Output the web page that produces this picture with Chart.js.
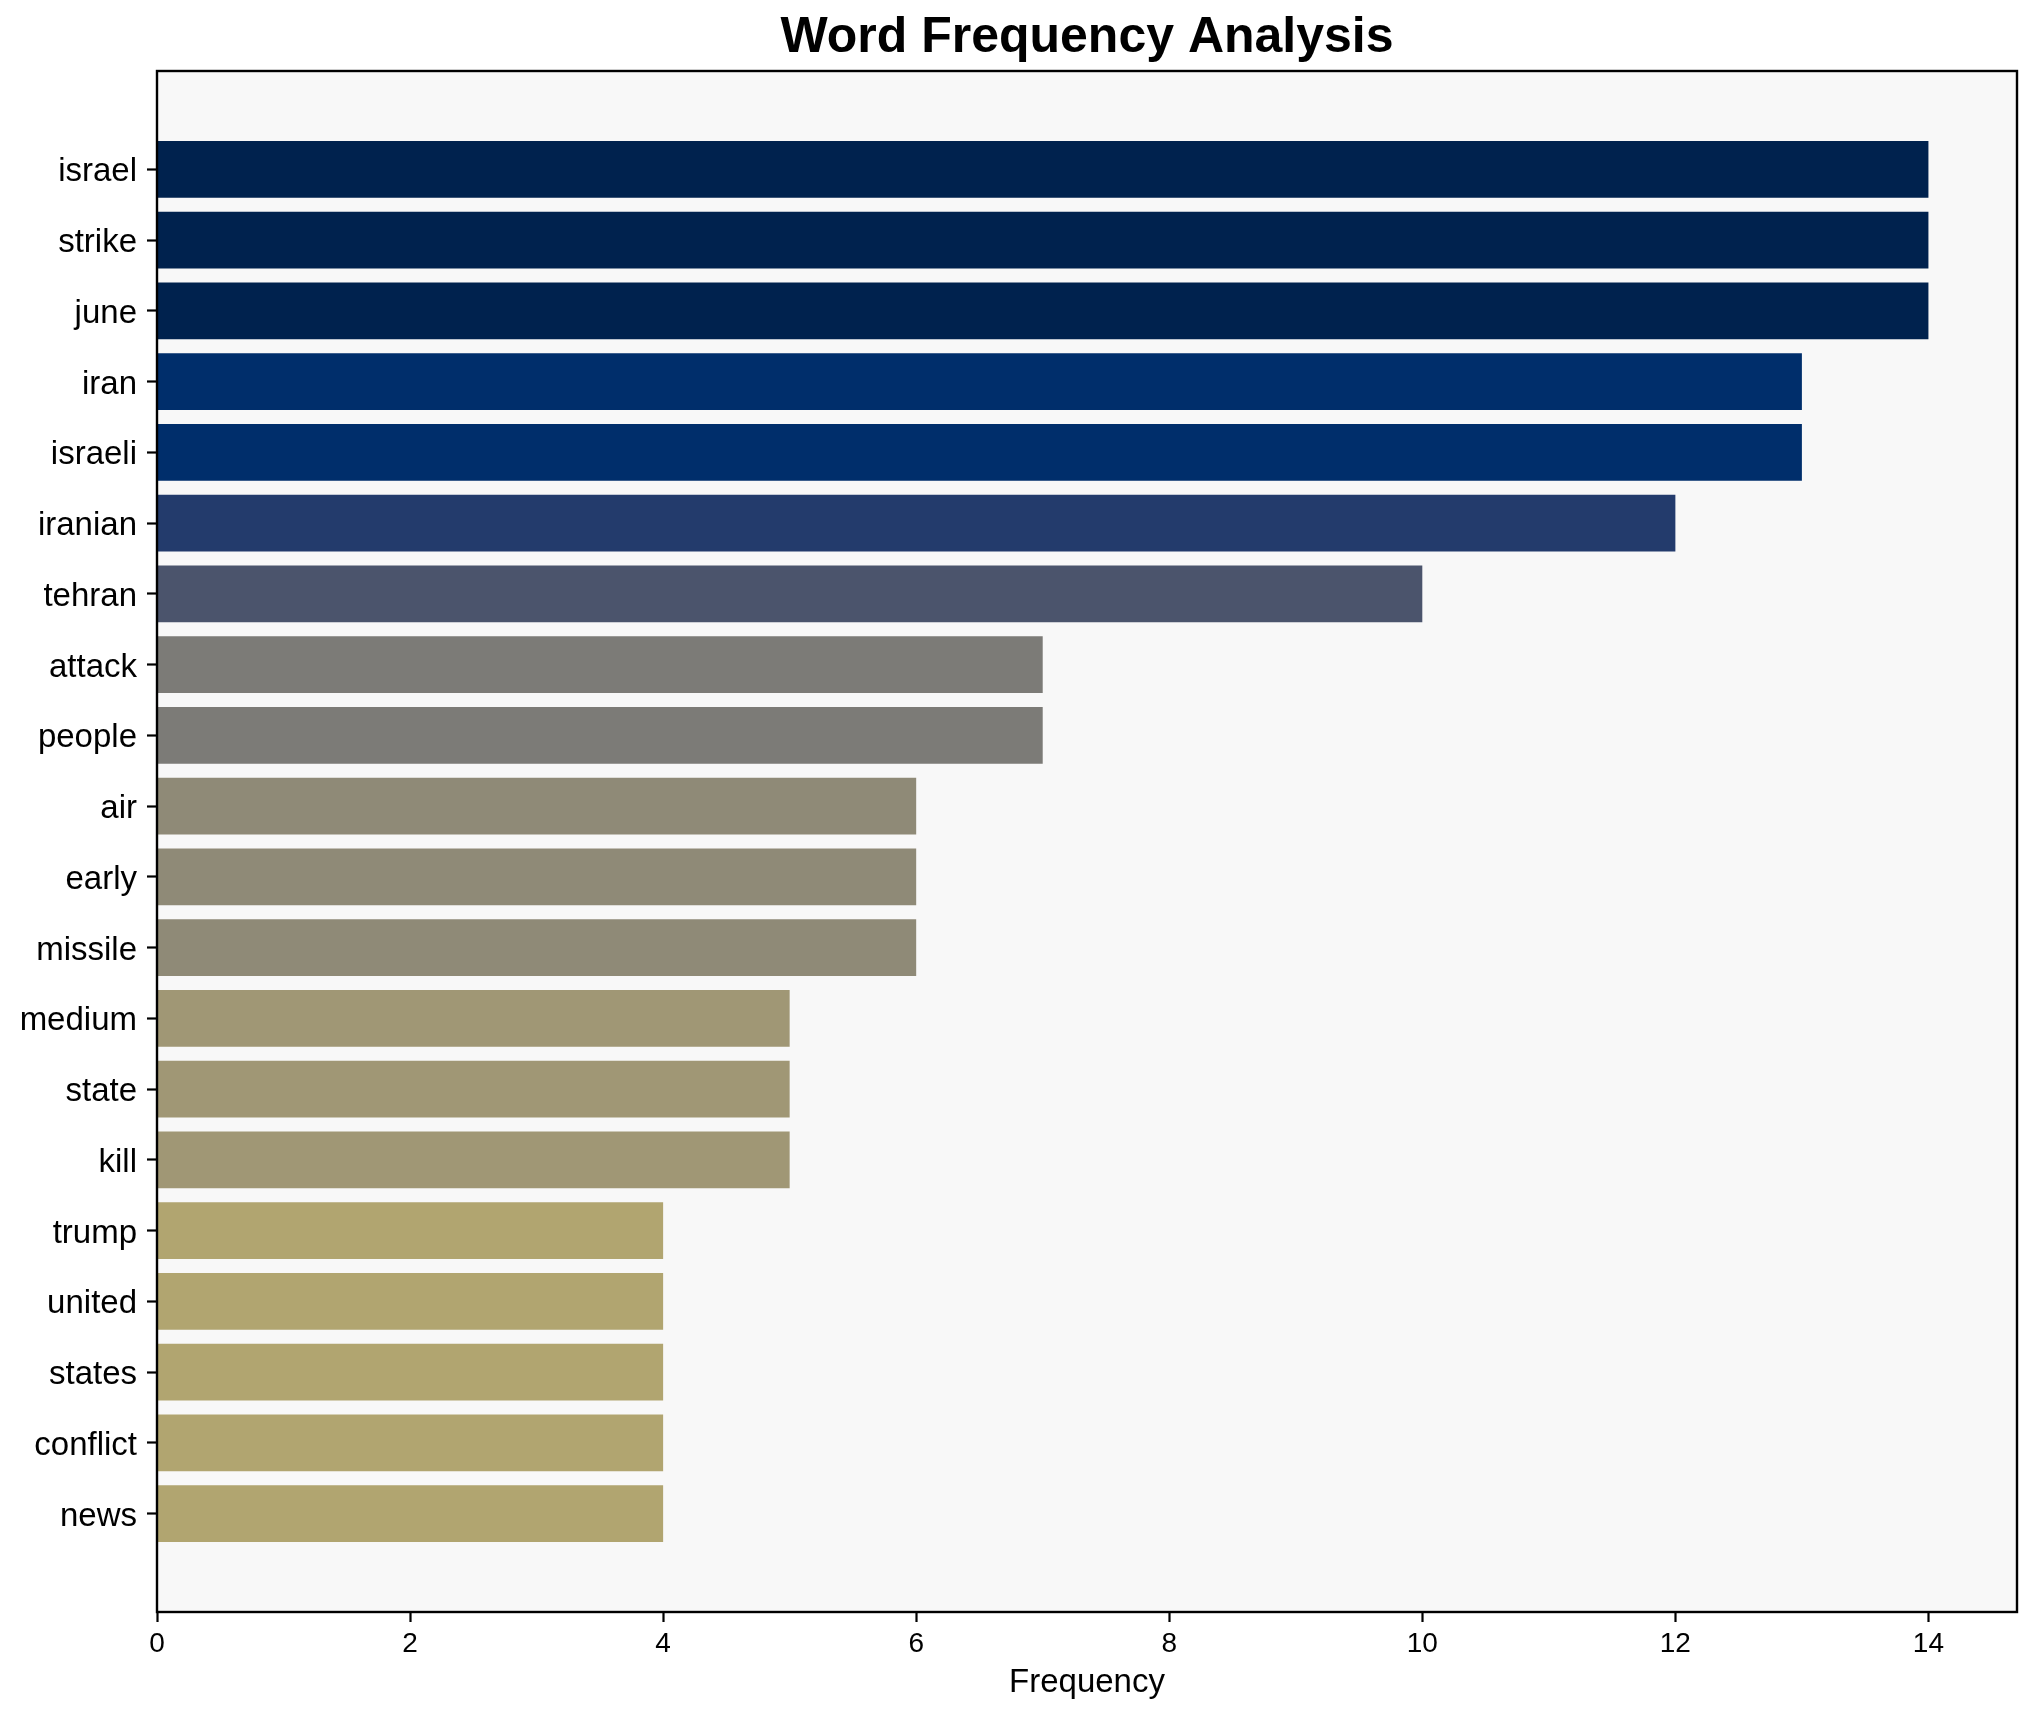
<!DOCTYPE html>
<html>
<head>
<meta charset="utf-8">
<script src="https://cdn.jsdelivr.net/npm/chart.js@4.4.0/dist/chart.umd.min.js"></script>
<style>
  body { margin: 0; background: #fff; }
  #wrap { width: 2037px; height: 1722px; }
</style>
</head>
<body>
<div id="wrap"><canvas id="freqChart" width="2037" height="1722"></canvas></div>
<script>
const words = ['israel', 'strike', 'june', 'iran', 'israeli', 'iranian', 'tehran', 'attack', 'people', 'air',
               'early', 'missile', 'medium', 'state', 'kill', 'trump', 'united', 'states', 'conflict', 'news'];
const counts = [14, 14, 14, 13, 13, 12, 10, 7, 7, 6, 6, 6, 5, 5, 5, 4, 4, 4, 4, 4];
const xTicks = [0, 2, 4, 6, 8, 10, 12, 14];

// colour picked per frequency
const colorByCount = {
    14: '#00224e',
    13: '#002e6b',
    12: '#233b6c',
    10: '#4b546c',
    7: '#7c7b77',
    6: '#8f8a77',
    5: '#a09775',
    4: '#b1a570'
};

Chart.defaults.font.family = '"Liberation Sans", Arial, sans-serif';
Chart.defaults.color = '#000';

const plotFrame = {
    id: 'plotFrame',
    beforeDraw(chart) {
        const a = chart.chartArea;
        const c = chart.ctx;
        c.save();
        c.fillStyle = '#f8f8f8';
        c.fillRect(a.left, a.top, a.right - a.left, a.bottom - a.top);
        c.restore();
    },
    afterDraw(chart) {
        const a = chart.chartArea;
        const c = chart.ctx;
        c.save();
        c.strokeStyle = '#000';
        c.lineWidth = 2.4;
        c.strokeRect(a.left, a.top, a.right - a.left, a.bottom - a.top);
        c.restore();
    }
};

const ctx = document.getElementById('freqChart').getContext('2d');
const freqChart = new Chart(ctx, {
    type: 'bar',
    data: {
        datasets: [{
            label: 'Frequency',
            data: counts.map((v, i) => ({ x: v, y: i })),
            backgroundColor: counts.map(v => colorByCount[v]),
            borderWidth: 0,
            categoryPercentage: 1,
            barPercentage: 0.8
        }]
    },
    options: {
        indexAxis: 'y',
        responsive: false,
        devicePixelRatio: 1,
        animation: false,
        layout: { padding: { left: 0, right: 20, top: 0, bottom: 0 } },
        plugins: {
            legend: { display: false },
            tooltip: { enabled: false },
            title: {
                display: true,
                text: 'Word Frequency Analysis',
                fullSize: false,
                color: '#000',
                font: { size: 50, weight: 'bold' },
                padding: { top: 8, bottom: 3 }
            }
        },
        scales: {
            x: {
                type: 'linear',
                min: 0,
                max: 14.7,
                afterBuildTicks: scale => { scale.ticks = xTicks.map(v => ({ value: v })); },
                afterFit: scale => { scale.height = 110; },
                grid: {
                    drawOnChartArea: false,
                    drawTicks: true,
                    tickLength: 10,
                    tickColor: '#000',
                    tickWidth: 2.2
                },
                border: { display: false },
                ticks: {
                    color: '#000',
                    font: { size: 28 },
                    padding: 5,
                    maxRotation: 0
                },
                title: {
                    display: true,
                    text: 'Frequency',
                    color: '#000',
                    font: { size: 33 },
                    padding: { top: 0, bottom: 19 }
                }
            },
            y: {
                type: 'linear',
                min: -1.39,
                max: 20.39,
                reverse: true,
                offset: false,
                afterBuildTicks: scale => { scale.ticks = words.map((w, i) => ({ value: i })); },
                afterFit: scale => { scale.width = 157; },
                grid: {
                    offset: false,
                    drawOnChartArea: false,
                    drawTicks: true,
                    tickLength: 10,
                    tickColor: '#000',
                    tickWidth: 2.2
                },
                border: { display: false },
                ticks: {
                    color: '#000',
                    font: { size: 33 },
                    padding: 10,
                    labelOffset: 3,
                    autoSkip: false,
                    callback: value => words[value]
                }
            }
        }
    },
    plugins: [plotFrame]
});
</script>
</body>
</html>
